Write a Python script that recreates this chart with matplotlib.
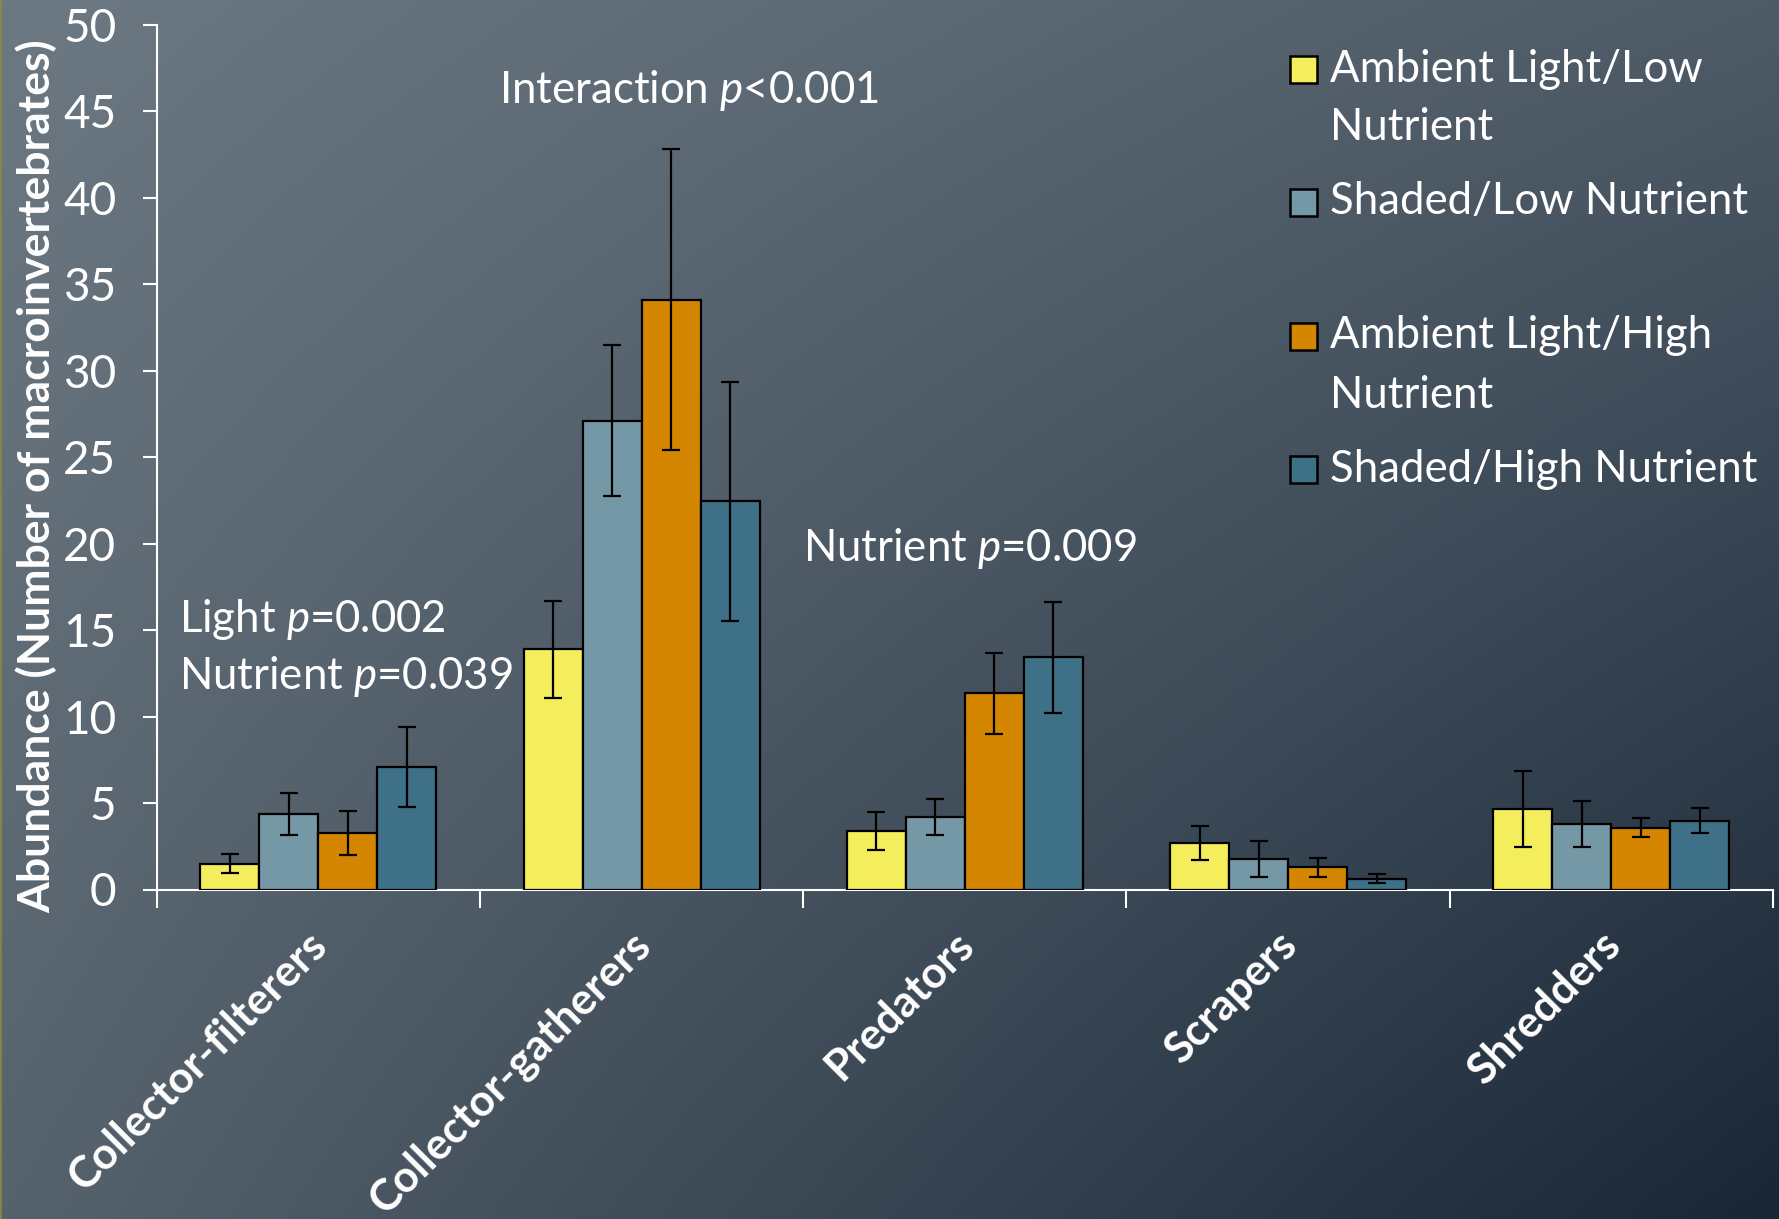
import numpy as np
import matplotlib.pyplot as plt
from matplotlib.patches import Rectangle
from matplotlib.lines import Line2D
from matplotlib.transforms import ScaledTranslation

plt.rcParams['font.family'] = ['Lato', 'DejaVu Sans']
plt.rcParams['mathtext.fontset'] = 'custom'
plt.rcParams['mathtext.rm'] = 'Lato'
plt.rcParams['mathtext.it'] = 'Lato:italic'

# functional feeding groups
groups = ['Collector-filterers', 'Collector-gatherers', 'Predators', 'Scrapers', 'Shredders']
treatments = ['Ambient Light/Low\nNutrient', 'Shaded/Low Nutrient',
              'Ambient Light/High\nNutrient', 'Shaded/High Nutrient']
colors = ['#f4ed5c', '#7598a6', '#d48600', '#3e7088']

# mean abundance per treatment (rows) and group (columns)
means = [
    [1.5, 13.9, 3.4, 2.7, 4.65],
    [4.35, 27.1, 4.2, 1.77, 3.78],
    [3.27, 34.1, 11.35, 1.28, 3.58],
    [7.07, 22.45, 13.42, 0.63, 3.99],
]
# standard errors
errors = [
    [0.56, 2.8, 1.11, 0.99, 2.2],
    [1.22, 4.37, 1.04, 1.02, 1.32],
    [1.27, 8.7, 2.35, 0.55, 0.56],
    [2.31, 6.9, 3.21, 0.25, 0.75],
]

W, H = 1779, 1219
fig = plt.figure(figsize=(W / 100, H / 100), dpi=100)

# diagonal slate-to-navy background
bg = fig.add_axes([0, 0, 1, 1], zorder=-10)
bg.axis('off')
tl = np.array([108, 121, 131]) / 255
tr = np.array([78, 91, 103]) / 255
bl = np.array([86, 98, 108]) / 255
br = np.array([24, 38, 54]) / 255
u = np.linspace(0, 1, 300)[None, :, None]
v = np.linspace(0, 1, 200)[:, None, None]
grad = (1 - v) * ((1 - u) * tl + u * tr) + v * ((1 - u) * bl + u * br)
bg.imshow(grad, extent=[0, 1, 0, 1], aspect='auto', interpolation='bilinear')
bg.set_xlim(0, 1)
bg.set_ylim(0, 1)
fig.add_artist(Line2D([0.0006, 0.0006], [0, 1], color='#8a8a48', lw=1.2,
                      transform=fig.transFigure))

ax = fig.add_axes([156.6 / W, 1 - 889.5 / H, (1773 - 156.6) / W, (889.5 - 25) / H])
ax.patch.set_alpha(0)

x = np.arange(len(groups))
w = 0.1825
for i in range(4):
    ax.bar(x + (i - 1.5) * w, means[i], w, color=colors[i], edgecolor='black',
           linewidth=1.6, yerr=errors[i], zorder=3,
           error_kw=dict(ecolor='black', elinewidth=1.6, capsize=6.5, capthick=1.6))

ax.set_xlim(-0.5, len(groups) - 0.5)
ax.set_ylim(0, 50)
ax.set_yticks(np.arange(0, 51, 5))

for s in ['top', 'right']:
    ax.spines[s].set_visible(False)
for s in ['left', 'bottom']:
    ax.spines[s].set_color('white')
    ax.spines[s].set_linewidth(1.5)

ax.tick_params(axis='y', colors='white', labelsize=33, length=10, width=1.5,
               direction='out', pad=19)
ax.set_xticks(x)
ax.set_xticklabels(groups, rotation=45, ha='right', rotation_mode='anchor',
                   fontsize=31.5, fontweight='bold', color='white')
ax.tick_params(axis='x', which='major', length=0, pad=25)
shift = ScaledTranslation(-0.12, 0, fig.dpi_scale_trans)
for lbl in ax.get_xticklabels():
    lbl.set_transform(lbl.get_transform() + shift)
ax.set_xticks(np.arange(-0.5, len(groups), 1), minor=True)
ax.tick_params(axis='x', which='minor', length=13, width=1.5, color='white',
               direction='out')

fig.text(36 / W, 1 - 476 / H, 'Abundance (Number of macroinvertebrates)',
         rotation=90, fontsize=32, fontweight='bold', color='white',
         ha='center', va='center')

# significance annotations
ann = dict(fontsize=31.5, color='white', va='center', ha='left')
ax.text(-0.43, 15.6, 'Light $p$=0.002', **ann)
ax.text(-0.43, 12.3, 'Nutrient $p$=0.039', **ann)
ax.text(0.56, 46.2, 'Interaction $p$<0.001', **ann)
ax.text(1.5, 19.75, 'Nutrient $p$=0.009', **ann)

# legend with a blank slot between the low and high nutrient entries
entry_y = [69, 202, 336, 470]
sq = 27
for c, lab, yc in zip(colors, treatments, entry_y):
    fig.add_artist(Rectangle((1290 / W, 1 - (yc + sq / 2) / H), sq / W, sq / H,
                             facecolor=c, edgecolor='black', lw=1.8,
                             transform=fig.transFigure))
    for k, line in enumerate(lab.split('\n')):
        fig.text(1330 / W, 1 - (yc + 59 * k) / H, line, fontsize=31.5,
                 color='white', va='center', ha='left')

fig.savefig('out.png', dpi=100)
